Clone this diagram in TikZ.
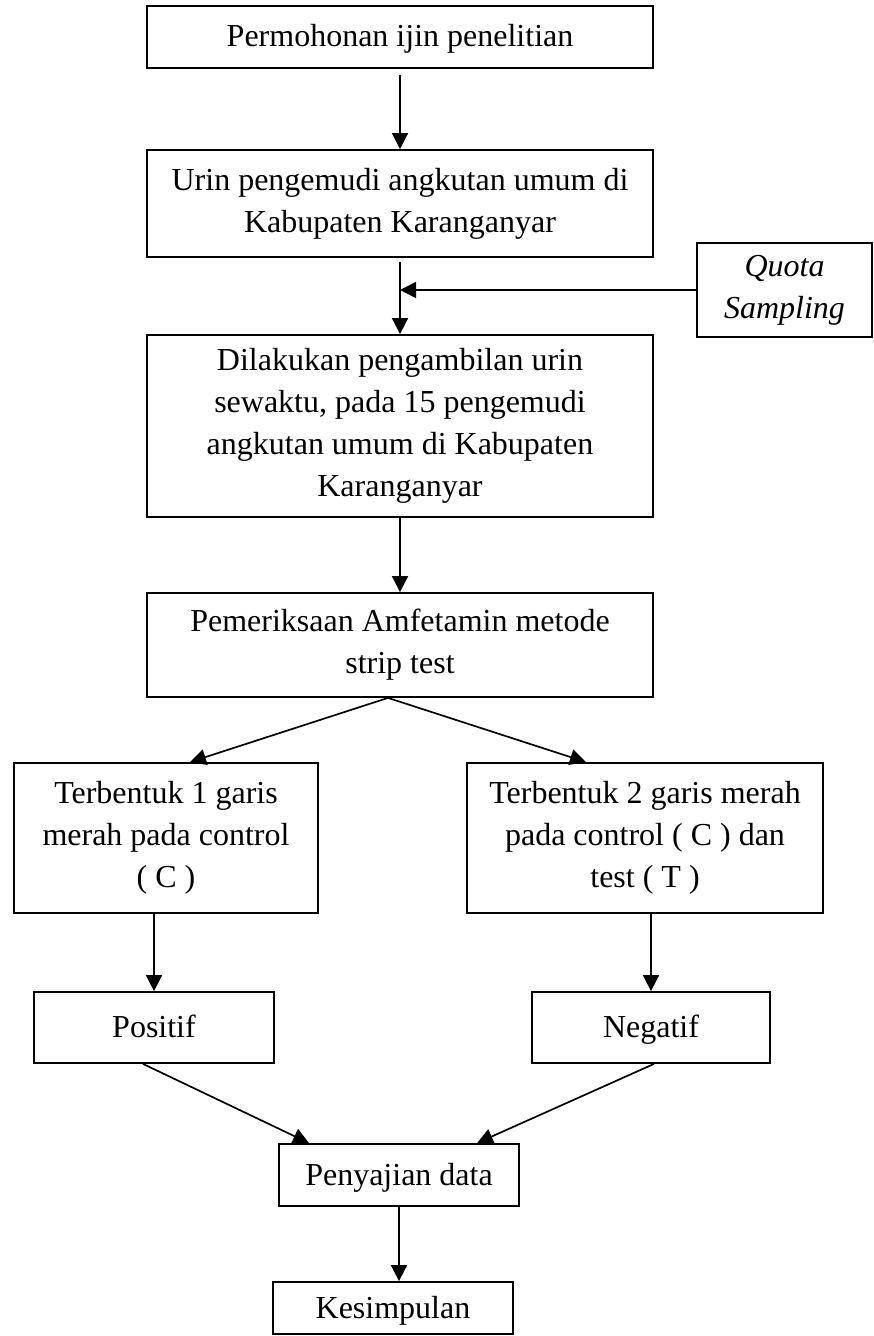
\documentclass[tikz,border=0pt]{standalone}
\usepackage{fontspec}
\setmainfont{Liberation Serif}
\usetikzlibrary{arrows.meta, positioning, calc}

\begin{document}
\begin{tikzpicture}[x=0.5pt, y=-0.5pt,
    box/.style={rectangle, draw, line width=0.9pt, align=center, inner sep=2pt, font=\fontsize{16}{21}\selectfont},
    oneline/.style={text height=12pt, text depth=2pt},
    flow/.style={-{Triangle[length=8pt,width=8pt]}, line width=0.85pt}]
    \useasboundingbox (0,0) rectangle (873,1336);
    \node[box, oneline, minimum width=253pt, minimum height=31pt] (ijin) at (400,37) {Permohonan ijin penelitian};
    \node[box, minimum width=253pt, minimum height=53.5pt] (urin) at (400,203.5) {Urin pengemudi angkutan umum di\\Kabupaten Karanganyar};
    \node[box, minimum width=87.5pt, minimum height=47pt] (quota) at (784.5,290) {\itshape Quota\\\itshape Sampling};
    \node[box, minimum width=253pt, minimum height=91pt] (ambil) at (400,426) {Dilakukan pengambilan urin\\sewaktu, pada 15 pengemudi\\angkutan umum di Kabupaten\\Karanganyar};
    \node[box, minimum width=253pt, minimum height=52pt] (periksa) at (400,645) {Pemeriksaan Amfetamin metode\\strip test};
    \node[box, minimum width=152pt, minimum height=75pt] (garis1) at (166,838) {Terbentuk 1 garis\\merah pada control\\( C )};
    \node[box, minimum width=178pt, minimum height=75pt] (garis2) at (645,838) {Terbentuk 2 garis merah\\pada control ( C ) dan\\test ( T )};
    \node[box, oneline, minimum width=120pt, minimum height=35.5pt] (positif) at (154,1027.5) {Positif};
    \node[box, oneline, minimum width=119pt, minimum height=35.5pt] (negatif) at (651,1027.5) {Negatif};
    \node[box, oneline, minimum width=120pt, minimum height=31pt] (sajian) at (399,1175) {Penyajian data};
    \node[box, oneline, minimum width=120pt, minimum height=26pt] (simpulan) at (393,1308) {Kesimpulan};

    % alur utama
    \draw[flow, shorten <=3pt] (ijin) -- (urin);
    \coordinate (gabung) at (urin.south |- quota.west);
    \draw[flow, shorten <=2pt] (urin) -- (ambil);
    \draw[flow] (quota.west) -- (gabung);
    \draw[flow] (ambil) -- (periksa);

    % percabangan hasil
    \coordinate (cabang) at ($(periksa.south)+(-12,0)$);
    \draw[flow] (cabang) -- ($(garis1.north)+(24,0)$);
    \draw[flow] (cabang) -- ($(garis2.north)+(-59,0)$);
    \draw[flow] (positif.north |- garis1.south) -- (positif.north);
    \draw[flow] (negatif.north |- garis2.south) -- (negatif.north);

    % penggabungan
    \draw[flow] ($(positif.south)+(-11,0)$) -- ($(sajian.north)+(-90,0)$);
    \draw[flow] ($(negatif.south)+(3,0)$) -- ($(sajian.north)+(78,0)$);
    \draw[flow] (sajian.south) -- (sajian.south |- simpulan.north);
\end{tikzpicture}
\end{document}
